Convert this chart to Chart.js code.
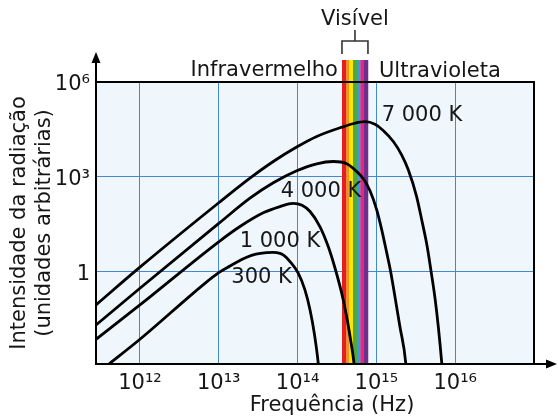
<!DOCTYPE html>
<html lang="pt">
<head>
    <meta charset="UTF-8">
    <title>Radiação do corpo negro</title>
    <script src="https://cdn.jsdelivr.net/npm/chart.js"></script>
    <style>
        body {
            margin: 0;
            background: #ffffff;
        }
        canvas {
            display: block;
        }
    </style>
</head>
<body>
    <canvas id="planck" width="558" height="416"></canvas>

    <script>
        // Curvas de emissão (frequência em Hz, intensidade em unidades arbitrárias)
        const freq7000 = [2.77e11, 1.00e12, 1.01e13, 2.49e13, 4.92e13, 9.75e13, 1.75e14, 3.69e14, 5.35e14, 7.16e14, 9.60e14, 1.22e15, 1.64e15, 2.09e15, 2.54e15, 3.24e15, 3.76e15, 4.35e15, 4.89e15, 5.55e15, 6.11e15, 6.75e15, 6.89e15];
        const inten7000 = [8.51e-2, 1.34, 151, 895, 3.01e3, 8.65e3, 1.87e4, 3.72e4, 4.92e4, 5.50e4, 4.57e4, 2.91e4, 1.30e4, 4.92e3, 1.64e3, 233, 42.6, 7.36, 1.18, 0.137, 1.71e-2, 1.23e-3, 6.3e-4];

        const freq4000 = [2.77e11, 1.00e12, 1.01e13, 2.49e13, 4.92e13, 9.75e13, 1.75e14, 2.84e14, 4.20e14, 5.62e14, 6.97e14, 8.30e14, 1.01e15, 1.17e15, 1.35e15, 1.52e15, 1.72e15, 1.99e15, 2.36e15, 2.40e15];
        const inten4000 = [1.97e-2, 0.288, 33.4, 207, 635, 1.53e3, 2.55e3, 3.01e3, 2.55e3, 1.45e3, 791, 354, 88.3, 20.5, 3.95, 0.951, 0.156, 1.74e-2, 1.20e-3, 6.3e-4];

        const freq1000 = [2.77e11, 1.00e12, 1.01e13, 1.86e13, 3.67e13, 5.98e13, 8.75e13, 1.14e14, 1.44e14, 1.92e14, 2.45e14, 2.99e14, 3.63e14, 4.20e14, 4.71e14, 5.20e14, 5.31e14];
        const inten1000 = [6.93e-3, 8.51e-2, 8.71, 26.1, 71.0, 112, 142, 123, 78.0, 26.1, 6.04, 1.24, 0.200, 3.62e-2, 6.59e-3, 1.20e-3, 6.3e-4];

        const freq300 = [3.10e11, 4.16e11, 1.00e12, 6.68e12, 1.01e13, 1.39e13, 1.86e13, 2.26e13, 2.96e13, 4.06e13, 4.88e13, 5.98e13, 6.71e13, 8.02e13, 1.02e14, 1.24e14, 1.44e14, 1.63e14, 1.83e14, 1.87e14];
        const inten300 = [6.7e-4, 1.20e-3, 6.93e-3, 0.413, 0.916, 1.47, 2.20, 2.78, 3.47, 3.87, 3.95, 3.67, 3.17, 2.02, 0.865, 0.255, 5.90e-2, 1.08e-2, 1.20e-3, 6.3e-4];

        // Rótulos das curvas e onde ficam
        const tempLabels = ['7 000 K', '4 000 K', '1 000 K', '300 K'];
        const labelFreq = [3.79e15, 1.98e14, 5.98e13, 3.50e13];
        const labelInten = [8.5e4, 337, 8.71, 0.61];

        // Faixa do visível: limites das cores (Hz)
        const spectrumEdges = [3.66e14, 4.15e14, 4.53e14, 5.05e14, 5.68e14, 6.25e14, 6.97e14, 7.82e14];
        const spectrumColors = ['#e3201f', '#f4911e', '#fde600', '#4fa73f', '#2e9fdb', '#e2287f', '#6d2e8d'];

        // Eixos
        const xTickValues = [1e12, 1e13, 1e14, 1e15, 1e16];
        const xTickLabels = ['10¹²', '10¹³', '10¹⁴', '10¹⁵', '10¹⁶'];
        const yTickValues = [1, 1e3, 1e6];
        const yTickLabels = ['1', '10³', '10⁶'];
        const xRange = [2.77e11, 1e17];
        const yRange = [1.14e-3, 1e6];

        const FONT = 'DejaVu Sans';
        const TEXT = '#161616';
        const GRID = '#4589cb';

        const toPoints = (xs, ys) => xs.map((x, i) => ({ x: x, y: ys[i] }));

        const curve = (xs, ys) => ({
            data: toPoints(xs, ys),
            showLine: true,
            borderColor: '#000',
            borderWidth: 2.8,
            pointRadius: 0,
            cubicInterpolationMode: 'monotone',
            fill: false
        });

        const decorPlugin = {
            id: 'decor',
            beforeDraw(chart) {
                const { ctx, chartArea: a } = chart;
                ctx.save();
                ctx.fillStyle = '#eff7fc';
                ctx.fillRect(a.left, a.top, a.right - a.left, a.bottom - a.top);
                ctx.restore();
            },
            beforeDatasetsDraw(chart) {
                // faixa colorida do visível, acima do gráfico até a chave
                const { ctx, chartArea: a, scales: { x } } = chart;
                ctx.save();
                for (let i = 0; i < spectrumColors.length; i++) {
                    const x0 = x.getPixelForValue(spectrumEdges[i]);
                    const x1 = x.getPixelForValue(spectrumEdges[i + 1]);
                    ctx.fillStyle = spectrumColors[i];
                    ctx.fillRect(x0, a.top - 22, x1 - x0 + 0.3, a.bottom - a.top + 22);
                }
                ctx.restore();
            },
            afterDraw(chart) {
                const { ctx, chartArea: a, scales: { x, y } } = chart;
                ctx.save();

                // moldura e eixos com setas
                ctx.strokeStyle = '#000';
                ctx.lineWidth = 2;
                ctx.beginPath();
                ctx.moveTo(a.left, a.top);
                ctx.lineTo(a.right, a.top);
                ctx.lineTo(a.right, a.bottom);
                ctx.moveTo(a.left, a.bottom + 1);
                ctx.lineTo(a.left, a.top - 22);
                ctx.moveTo(a.left - 1, a.bottom);
                ctx.lineTo(chart.width - 8, a.bottom);
                ctx.stroke();

                ctx.fillStyle = '#000';
                ctx.beginPath();
                ctx.moveTo(a.left, a.top - 30);
                ctx.lineTo(a.left - 4.5, a.top - 19);
                ctx.lineTo(a.left + 4.5, a.top - 19);
                ctx.closePath();
                ctx.fill();
                ctx.beginPath();
                ctx.moveTo(chart.width - 1, a.bottom);
                ctx.lineTo(chart.width - 12, a.bottom - 4.5);
                ctx.lineTo(chart.width - 12, a.bottom + 4.5);
                ctx.closePath();
                ctx.fill();

                // chave do visível
                const bl = x.getPixelForValue(spectrumEdges[0]);
                const br = x.getPixelForValue(spectrumEdges[spectrumEdges.length - 1]);
                const bc = (bl + br) / 2;
                ctx.strokeStyle = '#333';
                ctx.lineWidth = 1.6;
                ctx.beginPath();
                ctx.moveTo(bl, a.top - 28);
                ctx.lineTo(bl, a.top - 41);
                ctx.lineTo(br, a.top - 41);
                ctx.lineTo(br, a.top - 28);
                ctx.moveTo(bc, a.top - 41);
                ctx.lineTo(bc, a.top - 52);
                ctx.stroke();

                ctx.fillStyle = TEXT;
                ctx.font = '21px "' + FONT + '"';
                ctx.textBaseline = 'alphabetic';
                ctx.textAlign = 'center';
                ctx.fillText('Visível', bc, a.top - 57.5);
                ctx.textAlign = 'right';
                ctx.fillText('Infravermelho', bl - 4, a.top - 6);
                ctx.textAlign = 'left';
                ctx.fillText('Ultravioleta', br + 11, a.top - 5);

                // rótulos das curvas
                ctx.textAlign = 'center';
                ctx.textBaseline = 'middle';
                tempLabels.forEach((t, i) => {
                    ctx.fillText(t, x.getPixelForValue(labelFreq[i]), y.getPixelForValue(labelInten[i]));
                });

                // título do eixo x
                ctx.textBaseline = 'alphabetic';
                ctx.fillText('Frequência (Hz)', 332, a.bottom + 47);

                ctx.restore();
            }
        };

        new Chart(document.getElementById('planck').getContext('2d'), {
            type: 'scatter',
            data: {
                datasets: [
                    curve(freq7000, inten7000),
                    curve(freq4000, inten4000),
                    curve(freq1000, inten1000),
                    curve(freq300, inten300)
                ]
            },
            options: {
                responsive: false,
                animation: false,
                devicePixelRatio: 1,
                layout: { padding: { top: 82, right: 24, left: 0, bottom: 0 } },
                plugins: {
                    legend: { display: false },
                    tooltip: { enabled: false }
                },
                scales: {
                    x: {
                        type: 'logarithmic',
                        position: 'bottom',
                        min: xRange[0],
                        max: xRange[1],
                        afterBuildTicks: s => { s.ticks = xTickValues.map(v => ({ value: v })); },
                        afterFit: s => { s.height = 52; },
                        ticks: {
                            callback: (v, i) => xTickLabels[i],
                            font: { family: FONT, size: 21 },
                            color: TEXT,
                            padding: 7,
                            maxRotation: 0,
                            autoSkip: false
                        },
                        grid: { color: GRID, lineWidth: 1, drawTicks: false },
                        border: { display: false }
                    },
                    y: {
                        type: 'logarithmic',
                        position: 'left',
                        min: yRange[0],
                        max: yRange[1],
                        afterBuildTicks: s => { s.ticks = yTickValues.map(v => ({ value: v })); },
                        afterFit: s => { s.width = 96; },
                        ticks: {
                            callback: (v, i) => yTickLabels[i],
                            font: { family: FONT, size: 21 },
                            color: TEXT,
                            padding: 6,
                            labelOffset: 3,
                            autoSkip: false
                        },
                        grid: { color: GRID, lineWidth: 1, drawTicks: false },
                        border: { display: false },
                        title: {
                            display: true,
                            text: ['Intensidade da radiação', '(unidades arbitrárias)'],
                            font: { family: FONT, size: 21, lineHeight: 1.2 },
                            color: TEXT,
                            padding: { top: 7, bottom: 0 }
                        }
                    }
                }
            },
            plugins: [decorPlugin]
        });
    </script>
</body>
</html>
